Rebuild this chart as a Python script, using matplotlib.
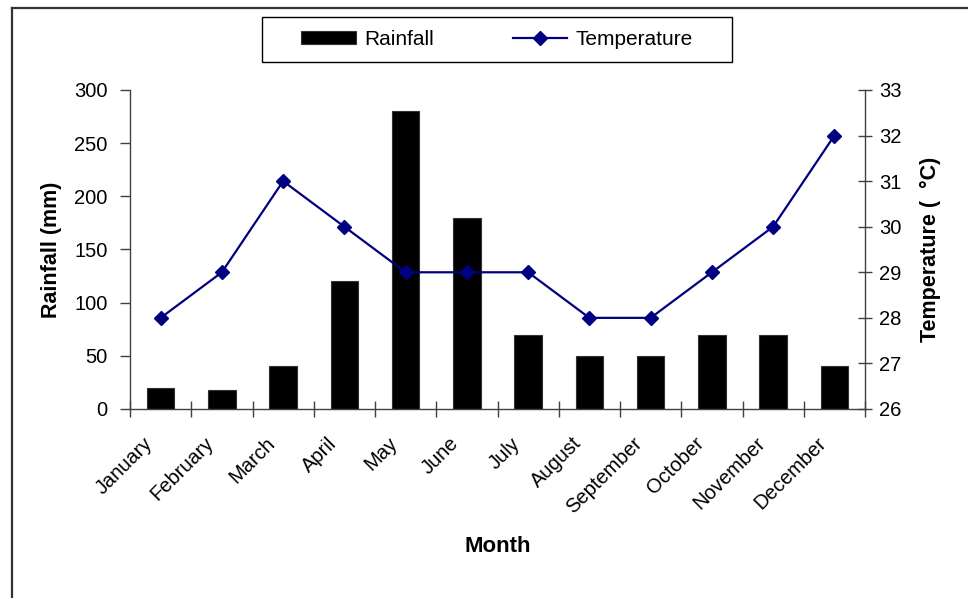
import matplotlib
matplotlib.use("Agg")
import matplotlib.pyplot as plt
from matplotlib.lines import Line2D
from matplotlib.patches import Rectangle
from matplotlib.ticker import FixedLocator
from matplotlib.transforms import ScaledTranslation

plt.rcParams['font.family'] = ['Liberation Sans', 'DejaVu Sans']

months = ["January", "February", "March", "April", "May", "June", "July",
          "August", "September", "October", "November", "December"]
rainfall = [20, 18, 40, 120, 280, 180, 70, 50, 50, 70, 70, 40]
temperature = [28, 29, 31, 30, 29, 29, 29, 28, 28, 29, 30, 32]
rain_ticks = [0, 50, 100, 150, 200, 250, 300]
temp_ticks = [26, 27, 28, 29, 30, 31, 32, 33]

W, H = 968, 598
fig = plt.figure(figsize=(W / 100, H / 100), dpi=100)
fig.patch.set_facecolor('white')

L, R, T, B = 130, 865, 90, 409
ax = fig.add_axes([L / W, 1 - B / H, (R - L) / W, (B - T) / H])
x = list(range(len(months)))
spine_c = '#404040'

bars = ax.bar(x, rainfall, width=0.45, color='black', edgecolor='#333333',
              linewidth=0.8, label='Rainfall', zorder=2)
ax.set_xlim(-0.5, 11.5)
ax.set_ylim(0, 300)
ax.set_yticks(rain_ticks)
ax.set_xticks(x)
ax.set_xticklabels(months, rotation=45, ha='right', va='center',
                   rotation_mode='anchor', fontsize=14.5)
ax.tick_params(axis='x', which='major', length=0, pad=14)
offset = ScaledTranslation(-0.11, -0.12, fig.dpi_scale_trans)
for lbl in ax.get_xticklabels():
    lbl.set_transform(lbl.get_transform() + offset)
ax.xaxis.set_minor_locator(FixedLocator([i - 0.5 for i in range(13)]))
ax.tick_params(axis='x', which='minor', length=11, direction='inout',
               color=spine_c, width=1)
ax.tick_params(axis='y', which='major', length=7, direction='out',
               color=spine_c, width=1, labelsize=14.5, pad=9)
for s in ['top', 'right']:
    ax.spines[s].set_visible(False)
for s in ['left', 'bottom']:
    ax.spines[s].set_color(spine_c)
    ax.spines[s].set_linewidth(1)

ax2 = ax.twinx()
line, = ax2.plot(x, temperature, color='#000080', linewidth=1.6, marker='D',
                 markersize=7.5, markerfacecolor='#000080',
                 markeredgecolor='#000080', label='Temperature', zorder=3)
ax2.set_ylim(26, 33)
ax2.set_yticks(temp_ticks)
ax2.tick_params(axis='y', which='major', length=10, direction='inout',
                color=spine_c, width=1, labelsize=14.5, pad=5)
for s in ['top', 'left', 'bottom']:
    ax2.spines[s].set_visible(False)
ax2.spines['right'].set_color(spine_c)
ax2.spines['right'].set_linewidth(1)

fig.text(52 / W, 1 - 249.5 / H, 'Rainfall (mm)', rotation=90, ha='center',
         va='center', fontsize=15.5, fontweight='bold')
fig.text(930 / W, 1 - 249.5 / H, 'Temperature (  \u00b0C)', rotation=90,
         ha='center', va='center', fontsize=15.5, fontweight='bold')
fig.text(498 / W, 1 - 547 / H, 'Month', ha='center', va='center',
         fontsize=16, fontweight='bold')

fig.legend([bars, line], ['Rainfall', 'Temperature'], loc='center',
           bbox_to_anchor=(497 / W, 1 - 39.5 / H), ncol=2, frameon=False,
           fontsize=15, handlelength=2.6, handletextpad=0.4,
           columnspacing=3.8, handleheight=0.6)
fig.patches.append(Rectangle((262 / W, 1 - 62 / H), 470 / W, 45 / H,
                             transform=fig.transFigure, fill=False,
                             edgecolor='black', linewidth=1))

# figure frame (top and left edges visible in reference)
fig.add_artist(Line2D([12 / W, 1], [1 - 8 / H, 1 - 8 / H],
                      transform=fig.transFigure, color='#333333', linewidth=1.6))
fig.add_artist(Line2D([12 / W, 12 / W], [0, 1 - 8 / H],
                      transform=fig.transFigure, color='#333333', linewidth=1.6))

fig.savefig('out.png', dpi=100)
